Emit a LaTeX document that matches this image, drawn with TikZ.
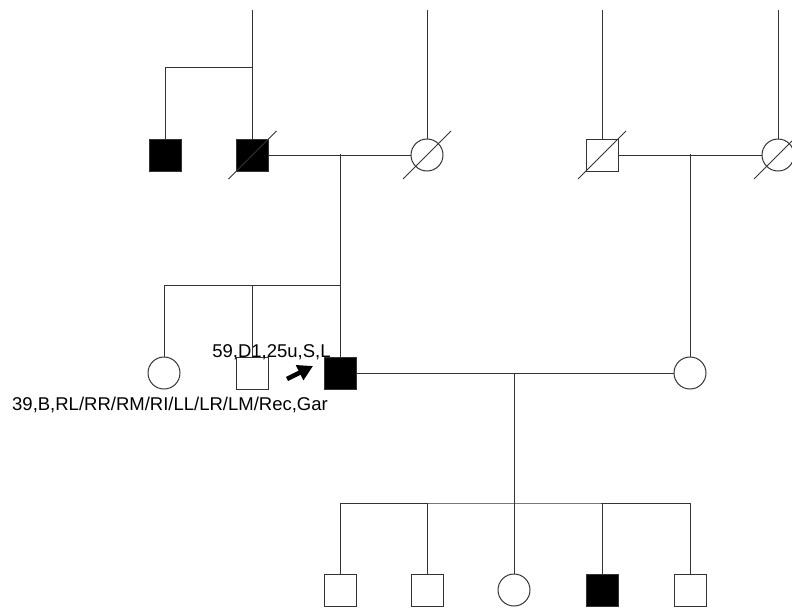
\documentclass[tikz,border=0pt]{standalone}
\usepackage{fontspec}
\setmainfont{Liberation Sans}
\usetikzlibrary{arrows.meta}
\tikzset{
  male/.style={draw,rectangle,minimum size=32pt,inner sep=0pt},
  female/.style={draw,circle,minimum size=32pt,inner sep=0pt},
  aff/.style={fill=black},
  line/.style={draw=black!80,line width=1pt}
}
\begin{document}
\begin{tikzpicture}[x=1pt,y=-1pt,every node/.style={line width=1pt,draw=black!80}]
\useasboundingbox (0,0) rectangle (792,608);
% generation I
\node[male,aff] (i1) at (165,155) {};
\node[male,aff] (i2) at (252.5,155) {};
\node[female] (i3) at (427,155) {};
\node[male] (i4) at (602,155) {};
\node[female] (i5) at (778,155) {};
% generation II
\node[female] (ii1) at (164,373) {};
\node[male] (ii2) at (252.5,373) {};
\node[male,aff] (ii3) at (340,373) {};
\node[female] (ii4) at (690,373) {};
% generation III
\foreach \k/\x in {1/340,2/427,4/602,5/690} \node[male] (iii\k) at (\x,590) {};
\node[female] (iii3) at (514,590) {};
\node[male,aff] at (iii4) {};
% deceased
\foreach \n in {i2,i3,i4,i5}
  \draw[line] ([shift={(-24,24)}]\n.center) -- ([shift={(24,-24)}]\n.center);
% lines
\foreach \n in {i2,i3,i4,i5} \draw[line] (\n.north |- 0,10) -- (\n.north);
\coordinate (s1) at (252.5,67);
\draw[line] (i1.north) |- (s1);
\draw[line] (i2.east) -- (i3.west);
\draw[line] (i4.east) -- (i5.west);
\coordinate (m1) at (340,154);
\coordinate (m2) at (690,154);
\coordinate (s2) at (340,285);
\draw[line] (m1) -- (ii3.north);
\draw[line] (m2) -- (ii4.north);
\draw[line] (ii1.north) |- (s2);
\draw[line] (ii2.north) -- (ii2.north |- s2);
\draw[line] (ii3.east) -- (ii4.west);
\coordinate (m3) at (514,373);
\coordinate (s3) at (514,503);
\draw[line] (m3) -- (iii3.north);
\draw[line] (iii1.north) |- (s3) -| (iii5.north);
\foreach \n in {iii2,iii4} \draw[line] (\n.north) -- (\n.north |- s3);
% proband
\draw[line width=4.5pt,-{Triangle[length=15pt,width=16pt]}] (287,379) -- (313,366);
\node[draw=none,anchor=base,font=\fontsize{18.5}{22}\selectfont] (lab1) at (271.5,357) {59,D1,25u,S,L};
\node[draw=none,anchor=base,font=\fontsize{18.5}{22}\selectfont] (lab2) at (170,410) {39,B,RL/RR/RM/RI/LL/LR/LM/Rec,Gar};
\end{tikzpicture}
\end{document}
